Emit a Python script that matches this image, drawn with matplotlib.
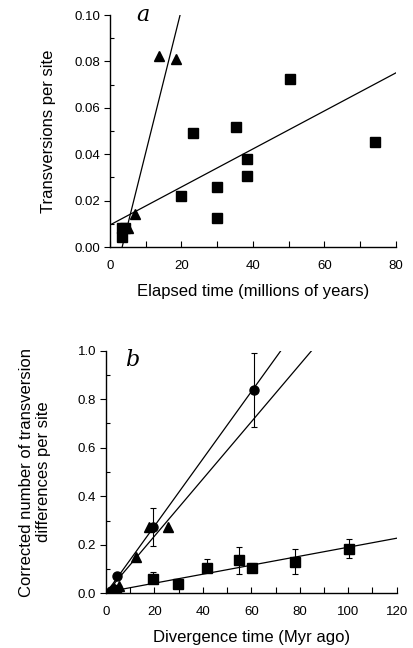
import numpy as np
import matplotlib.pyplot as plt
from matplotlib.ticker import MultipleLocator

plt.rcParams['font.family'] = ['Liberation Sans', 'DejaVu Sans']

# panel a data
a_sq_x = [3.3, 3.3, 4.2, 19.9, 23.1, 30.0, 30.0, 35.3, 38.2, 38.2, 50.3, 74.1]
a_sq_y = [0.0083, 0.0042, 0.0080, 0.022, 0.049, 0.026, 0.0127, 0.0516, 0.038, 0.0305, 0.0724, 0.0454]
a_tri_x = [5.1, 6.9, 13.6, 18.4]
a_tri_y = [0.008, 0.0141, 0.0823, 0.081]
# regression lines (endpoints)
a_steep_x = [3.4, 19.6]
a_steep_y = [0.0, 0.1]
a_flat_x = [0, 80.5]
a_flat_y = [0.0095, 0.0755]

# panel b data
b_circ_x = [2.0, 4.4, 19.3, 61.1]
b_circ_y = [0.01, 0.071, 0.272, 0.838]
b_circ_lo = [0.0, 0.0, 0.078, 0.154]
b_circ_hi = [0.0, 0.0, 0.081, 0.152]
b_tri_x = [2.5, 3.4, 5.4, 12.3, 17.7, 25.5]
b_tri_y = [0.01, 0.02, 0.031, 0.151, 0.272, 0.272]
b_sq_x = [4.0, 19.3, 29.9, 41.8, 54.8, 60.3, 78.0, 100.4]
b_sq_y = [0.015, 0.058, 0.038, 0.103, 0.137, 0.103, 0.128, 0.184]
b_sq_lo = [0.0, 0.0, 0.0, 0.0, 0.057, 0.015, 0.048, 0.037]
b_sq_hi = [0.0, 0.029, 0.0, 0.038, 0.055, 0.021, 0.055, 0.041]
b_circ_line_x = [0, 72.2]
b_circ_line_y = [0, 1.0]
b_tri_line_x = [0, 84.9]
b_tri_line_y = [0, 1.0]
b_sq_line_x = [7.2, 120]
b_sq_line_y = [0.018, 0.227]

fig = plt.figure(figsize=(4.14, 6.48), dpi=100)

def style_axes(ax):
    for s in ['top', 'right']:
        ax.spines[s].set_visible(False)
    ax.spines['left'].set_linewidth(1.0)
    ax.spines['bottom'].set_linewidth(1.0)
    ax.tick_params(axis='x', which='both', direction='in', length=4, width=0.8, labelsize=9.5, pad=9)
    ax.tick_params(axis='y', which='major', direction='out', length=4, width=0.8, labelsize=9.5, pad=3)
    ax.tick_params(axis='y', which='minor', direction='in', length=3, width=0.8)

# panel a
ax1 = fig.add_axes([0.2657, 0.6188, 0.6908, 0.358])
ax1.plot(a_steep_x, a_steep_y, color='black', lw=0.9)
ax1.plot(a_flat_x, a_flat_y, color='black', lw=0.9)
ax1.plot(a_sq_x, a_sq_y, 's', color='black', ms=6.5)
ax1.plot(a_tri_x, a_tri_y, '^', color='black', ms=6.5)
ax1.set_xlim(0, 80)
ax1.set_ylim(0, 0.1)
ax1.xaxis.set_major_locator(MultipleLocator(20))
ax1.xaxis.set_minor_locator(MultipleLocator(10))
ax1.yaxis.set_major_locator(MultipleLocator(0.02))
ax1.yaxis.set_minor_locator(MultipleLocator(0.01))
ax1.yaxis.set_major_formatter(plt.FormatStrFormatter('%.2f'))
style_axes(ax1)
ax1.set_xlabel('Elapsed time (millions of years)', fontsize=12, labelpad=9)
ax1.set_ylabel('Transversions per site', fontsize=12, labelpad=13)
ax1.text(9.2, 0.1, 'a', fontsize=16, style='italic', family='DejaVu Serif', va='center', ha='center')

# panel b
ax2 = fig.add_axes([0.256, 0.0844, 0.702, 0.3744])
ax2.plot(b_circ_line_x, b_circ_line_y, color='black', lw=0.9)
ax2.plot(b_tri_line_x, b_tri_line_y, color='black', lw=0.9)
ax2.plot(b_sq_line_x, b_sq_line_y, color='black', lw=0.9)
ax2.errorbar(b_circ_x, b_circ_y, yerr=[b_circ_lo, b_circ_hi], fmt='o', color='black', ms=6.5,
             elinewidth=0.8, capsize=2.5, capthick=0.8)
ax2.plot(b_tri_x, b_tri_y, '^', color='black', ms=6.5)
ax2.errorbar(b_sq_x, b_sq_y, yerr=[b_sq_lo, b_sq_hi], fmt='s', color='black', ms=6.5,
             elinewidth=0.8, capsize=2.5, capthick=0.8)
ax2.set_xlim(0, 120)
ax2.set_ylim(0, 1.0)
ax2.xaxis.set_major_locator(MultipleLocator(20))
ax2.xaxis.set_minor_locator(MultipleLocator(10))
ax2.yaxis.set_major_locator(MultipleLocator(0.2))
ax2.yaxis.set_minor_locator(MultipleLocator(0.1))
ax2.yaxis.set_major_formatter(plt.FormatStrFormatter('%.1f'))
style_axes(ax2)
ax2.set_xlabel('Divergence time (Myr ago)', fontsize=12, labelpad=9)
ax2.set_ylabel('Corrected number of transversion\ndifferences per site', fontsize=12, labelpad=19)
ax2.text(11, 0.96, 'b', fontsize=16, style='italic', family='DejaVu Serif', va='center', ha='center')

plt.savefig('out.png', dpi=100)
